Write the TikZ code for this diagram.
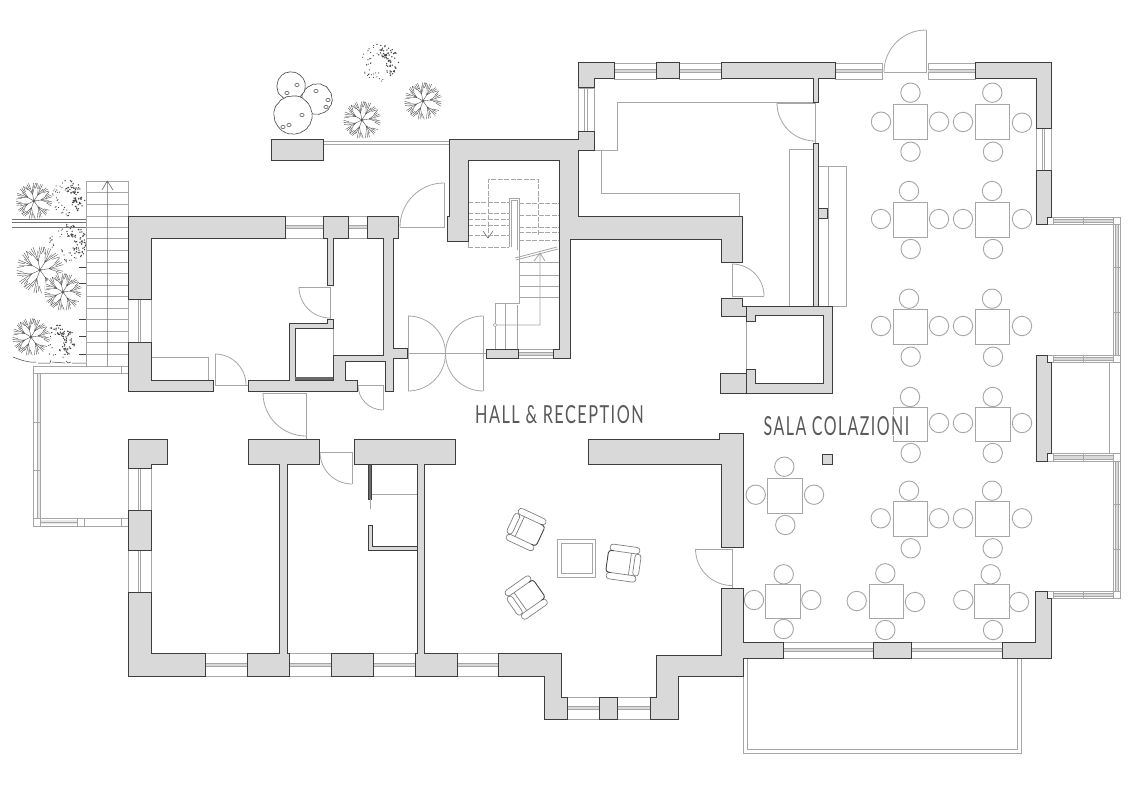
\documentclass[tikz,border=0pt]{standalone}
\usepackage{fontspec}
\setmainfont{Lato}
\usepackage{graphicx}
\usetikzlibrary{decorations.pathmorphing}
\definecolor{wallfill}{HTML}{D9D9D9}
\definecolor{wallline}{HTML}{3E3E3E}
\definecolor{thing}{HTML}{A6A6A6}
\definecolor{ink}{HTML}{444444}
\definecolor{txt}{HTML}{5A5A5A}
\tikzset{
  wall/.style={fill=wallfill,draw=wallline,line width=1pt,line join=miter},
  lite/.style={draw=thing,line width=.8pt},
  win/.style={draw=thing,line width=.8pt,fill=white},
  seatc/.style={draw=thing,line width=.9pt,fill=white},
  treeline/.style={draw=ink,line width=.35pt},
  dash1/.style={draw=thing,line width=.8pt,dash pattern=on 5pt off 1.5pt},
  label/.style={inner sep=0pt,text=txt,anchor=north west}
}
\newcommand{\winH}[4]{%
  \draw[win] (#1,#3) rectangle (#2,#4);
  \fill[wallfill] (#1,{(#3+#4)/2-1.6}) rectangle (#2,{(#3+#4)/2+1.6});
  \draw[lite] (#1,{(#3+#4)/2-1.6}) -- (#2,{(#3+#4)/2-1.6}) (#1,{(#3+#4)/2+1.6}) -- (#2,{(#3+#4)/2+1.6});}
\newcommand{\winV}[4]{%
  \draw[win] (#3,#1) rectangle (#4,#2);
  \draw[lite] ({(#3+#4)/2-1.2},#1) -- ({(#3+#4)/2-1.2},#2) ({(#3+#4)/2+1.2},#1) -- ({(#3+#4)/2+1.2},#2);}
\newcommand{\doorarc}[5]{\draw[lite] (#1,#2) ++(#4:#3pt) arc[start angle=#4,end angle=#5,radius=#3pt];}
\newcommand{\tablesq}[2]{\draw[lite] ({#1-17.3},{#2-17.3}) rectangle ({#1+17.3},{#2+17.3});}
\newcommand{\seatp}[2]{\draw[seatc] (#1,#2) circle[radius=9.7pt];}
\newcommand{\treeA}[3]{%
  \begin{scope}[shift={(#1,#2)}]
  \fill[white] (0,0) circle[radius=#3pt];
  \draw[treeline] (0,0) circle[radius=1.3pt];
  \foreach \a in {8,58,102,150,205,250,305}{
    \draw[treeline] (0,0) -- (\a:.38*#3pt);
    \foreach \d/\q in {-17/.98,-5/.8,5/1,17/.9}{
      \draw[treeline] (\a:.38*#3pt) -- ({\a+\d}:\q*#3pt);
    }
    \foreach \d in {-24,-11,11,24}{
      \draw[treeline] ({\a+\d*.7}:.68*#3pt) -- ({\a+\d}:.97*#3pt);
    }
  }
  \end{scope}}
\newcommand{\treeB}[4]{%
  \begin{scope}[shift={(#1,#2)}]
  \pgfmathsetseed{#4}
  \foreach \i in {1,...,70}{
    \pgfmathsetmacro{\aa}{-50+rnd*150}
    \pgfmathsetmacro{\rr}{#3*(.35+.65*rnd)}
    \fill[ink] (\aa:\rr pt) circle[radius=.75pt];
  }
  \foreach \i in {1,...,35}{
    \pgfmathsetmacro{\aa}{100+rnd*210}
    \pgfmathsetmacro{\rr}{#3*(.45+.55*rnd)}
    \fill[ink] (\aa:\rr pt) circle[radius=.6pt];
  }
  \end{scope}}
\newcommand{\cloud}[3]{%
  \draw[draw=ink,fill=white,line width=.6pt,decorate,decoration={random steps,segment length=2pt,amplitude=.35pt}] (#1,#2) circle[radius=#3pt];}
\newcommand{\blob}[2]{\draw[draw=ink,line width=.5pt] (#1,#2) circle[x radius=2.2pt,y radius=1.6pt];}
\newcommand{\chairp}[3]{%
  \begin{scope}[shift={(#1,#2)},rotate=#3]
  \draw[lite,line width=.7pt,rounded corners=3pt,draw=gray] (-16,-17.5) rectangle (14,-11);
  \draw[lite,line width=.7pt,rounded corners=3pt,draw=gray] (-16,11) rectangle (14,17.5);
  \draw[lite,line width=.7pt,rounded corners=3pt,draw=gray] (-18,-11) rectangle (-12,11);
  \draw[lite,line width=.7pt,draw=gray] (-8,-11) -- (-8,11);
  \draw[draw=ink,line width=.9pt,rounded corners=3pt] (10,-11) -- (15,-11) -- (15,11) -- (10,11);
  \end{scope}}
\newcommand{\labeltext}[3]{\resizebox{#1}{#2}{\fontsize{30}{30}\selectfont\addfontfeature{LetterSpace=9}#3}}
\begin{document}
\begin{tikzpicture}[x=1pt,y=-1pt]
\useasboundingbox (0,0) rectangle (1133,800);
\fill[white] (0,0) rectangle (1133,800);

% ---- vegetation
\treeB{67}{198}{18}{11}
\treeB{68}{243}{19}{12}
\treeB{58}{342}{17}{13}
\treeB{380}{63}{19}{14}
\treeA{34}{201}{18.5}
\treeA{40}{270}{24}
\treeA{63}{292}{19}
\treeA{31}{337}{19}
\treeA{362}{120}{19}
\treeA{423}{101}{19}
\cloud{317}{99}{15}
\cloud{291}{86}{14}
\cloud{293}{115}{19}
\blob{297}{85}\blob{287}{93}\blob{316}{91}\blob{328}{100}\blob{326}{107}\blob{302}{115}\blob{289}{125}\blob{283}{127}
\draw[ink!75!white,line width=.6pt] (12,219.5) -- (87,219.5) (12,222.5) -- (87,222.5) (12,227.5) -- (87,227.5);
\draw[ink,line width=.5pt] (13,357) .. controls (20,360) and (30,363) .. (36,362)
  (38,363) -- (50,363) -- (51,360) (52,362) -- (65,363) (66,361) -- (68,363) -- (71,362) (72,363) -- (86,363);
\foreach \yy in {267,283,319,336,354}{\draw[ink,line width=.5pt] (79,\yy) -- (87,\yy);}

% ---- outside stair
\draw[lite,line width=.7pt] (86.5,181) rectangle (128.3,366);
\foreach \yy in {192.5,204,216,227,238.5,250,262,273,285,296,308,319,331,342,354}{\draw[lite,line width=.7pt] (86.5,\yy) -- (128.3,\yy);}
\draw[draw=ink!80!white,line width=.6pt] (107.3,366) -- (107.3,181) (102,190) -- (107.3,181) -- (113,190);

% ---- left loggia rail
\fill[wallfill!60!white] (37,373) rectangle (40,518) (40,520) rectangle (77,524);
\draw[lite] (128,366) -- (33,366) -- (33,526) -- (128,526) (128,373) -- (40,373) -- (40,518) -- (128,518);
\draw[lite,line width=.6pt] (37,373) -- (37,518) (40,522) -- (77,522);
\draw[lite,line width=.6pt] (121,366) -- (121,373) (33,422) -- (40,422) (33,470) -- (40,470) (77,518) -- (77,526) (84,518) -- (84,526) (121,518) -- (121,526);
\draw[lite,line width=.6pt] (40,518) -- (40,526) (33,518) -- (40,518) (33,373) -- (40,373);

% ---- rail top
\draw[lite] (323,141) -- (449,141) (323,144) -- (449,144);

% ---- windows
\winH{285}{323}{216}{238}
\winH{348}{367}{216}{238}
\winV{299}{342}{128}{151}
\winV{468}{510}{128}{151}
\winV{550}{592}{128}{151}
\winH{205}{247}{653}{676}
\winH{289}{331}{653}{676}
\winH{373}{415}{653}{676}
\winH{457}{498}{653}{676}
\winH{567}{599}{697}{719}
\winH{617}{650}{697}{719}
\winH{614}{656}{63}{79}
\winH{679}{721}{63}{79}
\winH{835}{882}{63}{79}
\winH{928}{975}{63}{79}
\winV{88}{131}{578}{594}
\winV{128}{170}{1036}{1051}
\winH{783}{873}{642}{658}
\winH{911}{1002}{642}{658}
\winH{518}{553}{349}{358}

% ---- bays
\foreach \ya/\yb/\yc/\yd in {217/224/355/362,453/461/591/598}{
  \fill[wallfill] (1053,{\ya+2}) rectangle (1113,{\yb-2}) (1053,{\yc+2}) rectangle (1113,{\yd-2}) (1115,\yb) rectangle (1118,\yc);
  \draw[lite] (1047,\ya) -- (1120,\ya) -- (1120,\yd) -- (1047,\yd)
              (1051,\yb) -- (1113,\yb) -- (1113,\yc) -- (1051,\yc);
  \draw[lite,line width=.5pt] (1053,{\ya+2}) -- (1113,{\ya+2}) (1053,{\yb-2}) -- (1113,{\yb-2})
     (1053,{\yc+2}) -- (1113,{\yc+2}) (1053,{\yd-2}) -- (1113,{\yd-2})
     (1115,\yb) -- (1115,\yc) (1118,\yb) -- (1118,\yc)
     (1083,\ya) -- (1083,\yb) (1083,\yc) -- (1083,\yd)
     (1113,{\yb+43}) -- (1120,{\yb+43}) (1113,{\yb+88}) -- (1120,{\yb+88});
  \draw[lite,fill=white,line width=.6pt] (1113,\ya) rectangle (1120,\yb) (1113,\yc) rectangle (1120,\yd) (1047,\ya) rectangle (1053,\yb) (1047,\yc) rectangle (1053,\yd);
}
\draw[lite] (1109,362) -- (1109,453) (1120,362) -- (1120,453);

% ---- balcony
\draw[lite] (743,658) -- (743,753) -- (1021,753) -- (1021,658) (747,658) -- (747,749) -- (1017,749) -- (1017,658);

% ---- built-in lines
\draw[lite] (151,380) -- (151,357) -- (208,357) -- (208,380);
\draw[lite] (594,150) -- (617,150) -- (617,102) -- (815,102);
\draw[lite] (601,150) -- (601,193) -- (739,193) -- (739,216);
\draw[lite] (818,166) -- (846,166) -- (846,306) -- (813,306);
\draw[lite] (828,166) -- (828,306);
\draw[lite] (813,149) -- (789,149) -- (789,306);
\draw[lite] (746,321) -- (746,369);
\draw[lite] (372,494) -- (417,494);
\draw[lite] (333,328) -- (333,355);

% ---- doors
\draw[lite] (215,354) -- (215,385) -- (248,385); \doorarc{215}{385}{31}{90}{0}
\draw[lite] (299,287) -- (330,287) -- (330,319); \doorarc{330}{287}{31}{180}{270}
\draw[lite] (263,393) -- (306,393) -- (306,439); \doorarc{306}{393}{43}{180}{270}
\draw[lite] (358,385) -- (383,385) -- (383,410); \doorarc{383}{385}{25}{180}{270}
\draw[lite] (320,452) -- (352,452) -- (352,484); \doorarc{352}{452}{32}{180}{270}
\draw[lite] (400,227) -- (444,227) -- (444,183); \doorarc{444}{227}{44}{90}{180}
\draw[lite] (777,103) -- (815,103) -- (815,143); \doorarc{815}{103}{38}{180}{270}
\draw[lite] (732,264) -- (732,296) -- (764,296); \doorarc{732}{296}{32}{90}{0}
\draw[lite] (695.5,549) -- (732,549) -- (732,588); \doorarc{732}{549}{36.5}{180}{270}
\draw[lite] (926,30) -- (926,72) -- (884,72); \doorarc{926}{72}{42}{90}{180}
\draw[lite] (408,316) -- (408,391) (483,316) -- (483,391) (407,353.5) -- (486,353.5);
\doorarc{408}{353.5}{37.5}{90}{-90}
\doorarc{483}{353.5}{37.5}{90}{270}

% ---- core stair
\draw[dash1] (488,202) -- (488,179) -- (538,179) -- (538,235);
\draw[dash1] (488,202) -- (488,238);
\draw[draw=ink!80!white,line width=.6pt] (483,231) -- (488,238) -- (493,231);
\foreach \yy in {202.7,213,219,225,235,247}{\draw[dash1] (468,\yy) -- (509,\yy);}
\foreach \yy in {203,215,227,232,240}{\draw[dash1] (519,\yy) -- (559,\yy);}
\draw[dash1] (468,216) -- (468,247);
\draw[lite] (509,247) -- (509,198) -- (519,198) -- (519,250);
\draw[lite] (511,247) -- (511,200) -- (517,200) -- (517,250);
\draw[lite] (519,250) -- (519,303) -- (495,303) -- (495,349) (517,305) -- (517,349) (505,303) -- (505,349);
\foreach \yy in {262,275,286,297}{\draw[lite,line width=.7pt] (520,\yy) -- (559,\yy);}
\draw[lite] (540,253) -- (540,325) -- (495,325) (534,261) -- (540,253) -- (545,261);
\draw[lite,fill=white,line width=.6pt] (495,325) circle[radius=1.8pt];
\draw[lite] (515,258) -- (557,247) (516,260) -- (558,249);

% ---- furniture: tables
\foreach \cx in {910.5,992.5}{\foreach \cy in {122,220,327,519}{\tablesq{\cx}{\cy}}}
\draw[lite] (893.2,415) -- (893.2,407.2) -- (927.8,407.2) -- (927.8,441.8) -- (893.2,441.8) -- (893.2,436);
\tablesq{992.8}{424.5}
\tablesq{785}{495.7}
\tablesq{782.7}{601.5}
\tablesq{886.4}{601.5}
\tablesq{991.8}{601.5}
\foreach \xx/\yy in {910.5/92.7,910.5/151.7,881/121.7,939/121.7,
  992.3/92.7,993/151.7,963/122,1022/122.7,
  909/191,910.7/249,881/219,939/219,
  992/191,993/249,963/219,1022/219,
  909/298.7,910.7/356.7,881/326,939/326,
  992/298.7,993/356.7,963/326,1022/326,
  910/397,910.7/453,939/423,
  992.7/397,992.7/453,963/423,1022/423,
  909/490.7,910.7/548.3,880.7/518.3,939/518.3,
  992/490.7,992.7/548.3,963/518.3,1022/518.3,
  784.3/466.7,785.3/525,755.7/494.7,814/494.7,
  783.7/574.3,783.7/629,754/600,811.3/600,
  885.3/573.3,885.3/630,856.7/601,915/602,
  990.7/574.3,993/630,963.3/600,1019/602}{\seatp{\xx}{\yy}}

% ---- lounge
\draw[lite,line width=.9pt] (557,539) rectangle (595,577) (561,543) rectangle (592,573);
\chairp{527}{530}{-25}
\chairp{622}{563}{172}
\chairp{527}{597}{35}

% ---- walls
\draw[wall] (128,216) -- (285,216) -- (285,238) -- (151,238) -- (151,299) -- (128,299) -- cycle;
\draw[wall] (128,342) -- (151,342) -- (151,380) -- (213,380) -- (213,391) -- (128,391) -- cycle;
\draw[wall] (323,216) -- (348,216) -- (348,238) -- (333,238) -- (333,285) -- (327,285) -- (327,238) -- (323,238) -- cycle;
\draw[wall] (248,380) -- (289,380) -- (289,323) -- (327,323) -- (327,319) -- (333,319) -- (333,328) -- (295,328) -- (295,380) -- (333,380) -- (333,355) -- (383,355) -- (383,238) -- (367,238) -- (367,216) -- (398,216) -- (398,238) -- (393,238) -- (393,348) -- (407,348) -- (407,358) -- (393,358) -- (393,391) -- (385,391) -- (385,361) -- (345,361) -- (345,380) -- (357,380) -- (357,391) -- (248,391) -- cycle;
\fill[ink!80!white] (295,377) rectangle (333,380);
\draw[wall] (128,439) -- (167,439) -- (167,464) -- (151,464) -- (151,468) -- (128,468) -- cycle;
\draw[wall] (128,510) rectangle (151,550);
\draw[wall] (128,592) -- (151,592) -- (151,653) -- (205,653) -- (205,676) -- (128,676) -- cycle;
\draw[wall] (248,439) -- (319,439) -- (319,464) -- (287,464) -- (287,653) -- (289,653) -- (289,676) -- (247,676) -- (247,653) -- (279,653) -- (279,464) -- (248,464) -- cycle;
\draw[wall] (354,439) -- (455,439) -- (455,464) -- (424,464) -- (424,653) -- (457,653) -- (457,676) -- (415,676) -- (415,653) -- (417,653) -- (417,464) -- (354,464) -- cycle;
\draw[wall] (331,653) rectangle (373,676);
\draw[wall,line width=.9pt,fill=wallfill!50!black] (368.5,464) rectangle (371.5,499);
\draw[lite] (370,499) -- (370,509);
\draw[wall,line width=.9pt] (368.5,525) -- (372,525) -- (372,546) -- (417,546) -- (417,550) -- (368.5,550) -- cycle;
\draw[wall] (271,139) rectangle (323,160);
\draw[wall] (449,139) -- (578,139) -- (578,131) -- (594,131) -- (594,150) -- (578,150) -- (578,216) -- (742,216) -- (742,262) -- (721,262) -- (721,239) -- (570,239) -- (570,358) -- (553,358) -- (553,349) -- (559,349) -- (559,160) -- (468,160) -- (468,241) -- (447,241) -- (447,216) -- (449,216) -- cycle;
\draw[wall] (486,349) rectangle (518,358);
\draw[wall] (578,63) -- (614,63) -- (614,79) -- (594,79) -- (594,88) -- (578,88) -- cycle;
\draw[wall] (656,63) rectangle (679,79);
\draw[wall] (721,63) -- (835,63) -- (835,79) -- (818,79) -- (818,102) -- (813,102) -- (813,79) -- (721,79) -- cycle;
\draw[wall] (813,143) rectangle (818,306);
\draw[wall] (818,208) rectangle (827,218);
\draw[wall] (721,298) -- (742,298) -- (742,306) -- (746,306) -- (746,316) -- (721,316) -- cycle;
\draw[wall] (746,306) -- (832,306) -- (832,393) -- (746,393) -- (746,369) -- (755,369) -- (755,383) -- (823,383) -- (823,315) -- (755,315) -- (755,321) -- (746,321) -- cycle;
\draw[wall] (720,373) rectangle (746,393);
\draw[wall] (588,439) -- (719,439) -- (719,433) -- (743,433) -- (743,547) -- (721,547) -- (721,464) -- (588,464) -- cycle;
\draw[wall] (721,588) -- (743,588) -- (743,642) -- (783,642) -- (783,658) -- (743,658) -- (743,676) -- (678,676) -- (678,719) -- (650,719) -- (650,697) -- (656,697) -- (656,655) -- (721,655) -- cycle;
\draw[wall] (498,653) -- (561,653) -- (561,697) -- (567,697) -- (567,719) -- (544,719) -- (544,676) -- (498,676) -- cycle;
\draw[wall] (599,697) rectangle (617,719);
\draw[wall] (975,63) -- (1051,63) -- (1051,128) -- (1036,128) -- (1036,79) -- (975,79) -- cycle;
\draw[wall] (1036,170) -- (1051,170) -- (1051,217) -- (1047,217) -- (1047,224) -- (1036,224) -- cycle;
\draw[wall] (1036,355) -- (1047,355) -- (1047,362) -- (1051,362) -- (1051,453) -- (1047,453) -- (1047,461) -- (1036,461) -- cycle;
\draw[wall] (1035,591) -- (1047,591) -- (1047,598) -- (1051,598) -- (1051,658) -- (1002,658) -- (1002,642) -- (1035,642) -- cycle;
\draw[wall] (873,642) rectangle (911,658);
\draw[wall] (822.3,454) rectangle (832.7,464);

% ---- labels
\node[label] (hall) at (475,405) {\labeltext{168.5pt}{18pt}{HALL \& RECEPTION}};
\node[label] (sala) at (763.5,416) {\labeltext{145.5pt}{19pt}{SALA COLAZIONI}};
\end{tikzpicture}
\end{document}
